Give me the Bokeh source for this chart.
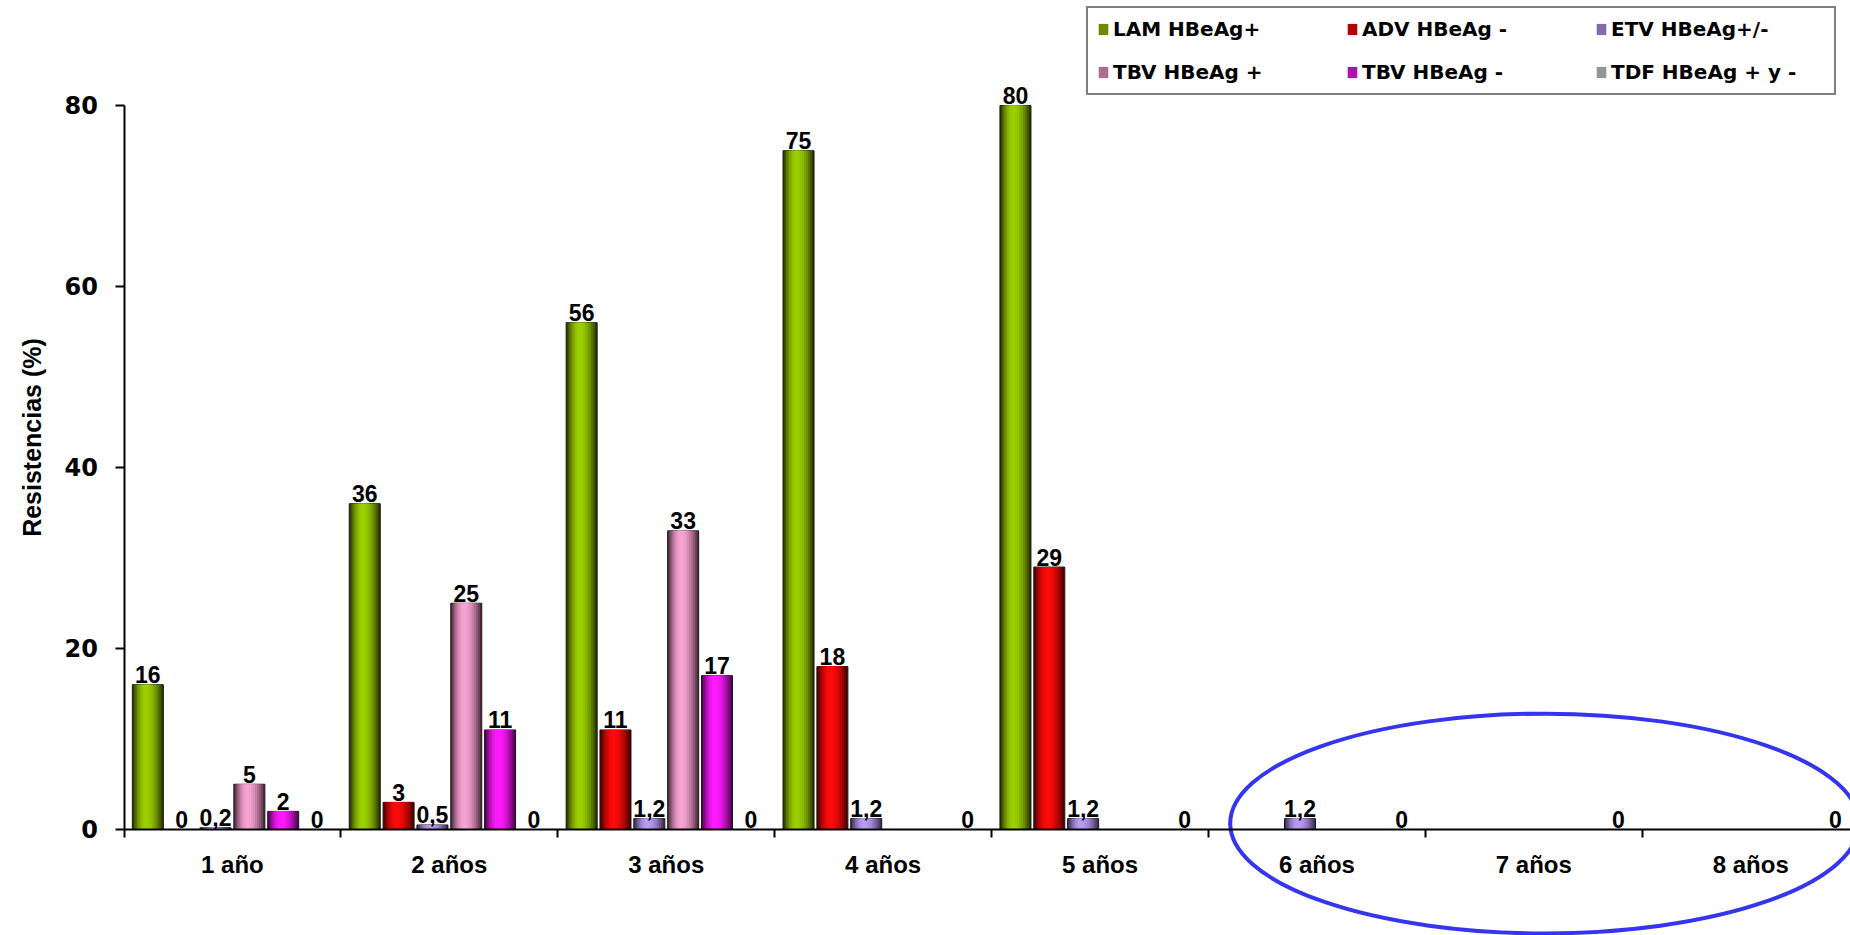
import math

from bokeh.core.properties import value
from bokeh.embed import file_html
from bokeh.models import (ColumnDataSource, FixedTicker, Label, Legend,
                          LegendItem, LinearAxis, Range1d)
from bokeh.plotting import figure
from bokeh.resources import INLINE
from bokeh.transform import dodge

# ---- data -------------------------------------------------------------
categories = ["1 año", "2 años", "3 años", "4 años",
              "5 años", "6 años", "7 años", "8 años"]
series_names = ["LAM HBeAg+", "ADV HBeAg -", "ETV HBeAg+/-",
                "TBV HBeAg +", "TBV HBeAg -", "TDF HBeAg + y -"]

lam = [16, 36, 56, 75, 80, None, None, None]
adv = [0, 3, 11, 18, 29, None, None, None]
etv = [0.2, 0.5, 1.2, 1.2, 1.2, 1.2, None, None]
tbv_pos = [5, 25, 33, None, None, None, None, None]
tbv_neg = [2, 11, 17, None, None, None, None, None]
tdf = [0, 0, 0, 0, 0, 0, 0, 0]

y_ticks = [0, 20, 40, 60, 80]
y_title = "Resistencias (%)"

# shading: dark edge tone and bright centre tone of each series
edge_colors = ["#1c2400", "#360000", "#2c2040", "#3a1c2c", "#3a003a", "#3a3a3a"]
centre_colors = ["#9ccf00", "#ff0a0a", "#b89cf2", "#f7a3d2", "#ff1aff", "#cfcfcf"]

series = [lam, adv, etv, tbv_pos, tbv_neg, tdf]

# ---- geometry ---------------------------------------------------------
SLOT = 0.156      # distance between neighbouring bars in a group
BAR_W = 0.143     # bar width (category units)
LAYERS = 9        # bands used for the cylinder shading


def hex_to_rgb(c):
    c = c.lstrip("#")
    return tuple(int(c[i:i + 2], 16) for i in (0, 2, 4))


def mix(c1, c2, t):
    a, b = hex_to_rgb(c1), hex_to_rgb(c2)
    return "#%02x%02x%02x" % tuple(round(x + (y - x) * t) for x, y in zip(a, b))


def fmt(v):
    if float(v).is_integer():
        return str(int(v))
    return str(v).replace(".", ",")


p = figure(width=1850, height=935, output_backend="svg", toolbar_location=None,
           x_range=Range1d(-0.5694, 7.960), y_range=Range1d(-11.713, 91.602),
           x_axis_location=None, y_axis_location=None, min_border=0)
p.outline_line_color = None
p.background_fill_color = "white"
for g in p.grid:
    g.visible = False

legend_items = []
for j, vals in enumerate(series):
    xs, tops, labels = [], [], []
    for i, v in enumerate(vals):
        if v is None:
            continue
        xs.append(i + 0.5 + (j - 2.5) * SLOT)
        tops.append(v)
        labels.append(fmt(v))
    src = ColumnDataSource(dict(x=xs, top=tops, label=labels))

    legend_r = None
    for k in range(LAYERS):
        frac = 1 - k / LAYERS
        d = 1 - (k + 0.5) / LAYERS
        t = math.cos(d * math.pi / 2) ** 0.9
        color = mix(edge_colors[j], centre_colors[j], t)
        shift = -0.07 * BAR_W * (k / LAYERS)
        r = p.vbar(x=dodge("x", shift), top="top", bottom=0,
                   width=BAR_W * frac, source=src, fill_color=color,
                   line_color="#1a1a1a" if k == 0 else None, line_width=1)
        if k == LAYERS // 2 - 1:
            legend_r = r
    legend_items.append(LegendItem(label=series_names[j], renderers=[legend_r]))

    p.text(x="x", y="top", text="label", source=src,
           text_font=value("Liberation Sans"), text_font_style="bold",
           text_font_size="23px", text_align="center",
           text_baseline="alphabetic", y_offset=-10, text_color="black")

# ---- highlight around the last three years ----------------------------
p.ellipse(x=[6.55], y=[0.66], width=[2.9], height=[24.3],
          fill_color=None, line_color="#3535f0", line_width=4)

# ---- axes -------------------------------------------------------------
yaxis = LinearAxis(fixed_location=0, bounds=(0, 80),
                   ticker=FixedTicker(ticks=y_ticks))
yaxis.axis_line_width = 2
yaxis.major_tick_line_width = 2
yaxis.major_tick_in = 0
yaxis.major_tick_out = 9
yaxis.minor_tick_line_color = None
yaxis.major_label_standoff = 17
yaxis.major_label_text_font = "DejaVu Sans"
yaxis.major_label_text_font_style = "bold"
yaxis.major_label_text_font_size = "24px"
yaxis.major_label_text_color = "black"
p.add_layout(yaxis, "left")

# vertical axis title
p.add_layout(Label(x=31, y=498, x_units="screen", y_units="screen",
                   text=y_title, angle=math.pi / 2,
                   text_align="center", text_baseline="middle",
                   text_font="Liberation Sans", text_font_style="bold",
                   text_font_size="25px", text_color="black"))

centres = [i + 0.5 for i in range(len(categories))]
bounds = [float(i) for i in range(len(categories) + 1)]
xaxis = LinearAxis(fixed_location=0, bounds=(0, len(categories)),
                   ticker=FixedTicker(ticks=centres, minor_ticks=bounds),
                   major_label_overrides={c: n for c, n in zip(centres, categories)})
xaxis.axis_line_width = 2
xaxis.major_tick_in = 0
xaxis.major_tick_out = 0
xaxis.minor_tick_in = 0
xaxis.minor_tick_out = 8
xaxis.minor_tick_line_width = 2
xaxis.major_label_standoff = 14
xaxis.major_label_text_font = "Liberation Sans"
xaxis.major_label_text_font_style = "bold"
xaxis.major_label_text_font_size = "24px"
xaxis.major_label_text_color = "black"
p.add_layout(xaxis, "below")

# ---- legend -----------------------------------------------------------
legend = Legend(items=legend_items, location=(1086, 840),
                orientation="horizontal", ncols=3,
                label_text_font="DejaVu Sans", label_text_font_style="bold",
                label_text_font_size="20px", label_text_color="black",
                glyph_width=12, glyph_height=14,
                label_standoff=4, label_width=214, label_height=22,
                spacing=19, padding=9, margin=0,
                border_line_color="black", border_line_width=2,
                background_fill_color="white", background_fill_alpha=1)
p.add_layout(legend, "center")

open("out.html", "w").write(file_html(p, INLINE))
